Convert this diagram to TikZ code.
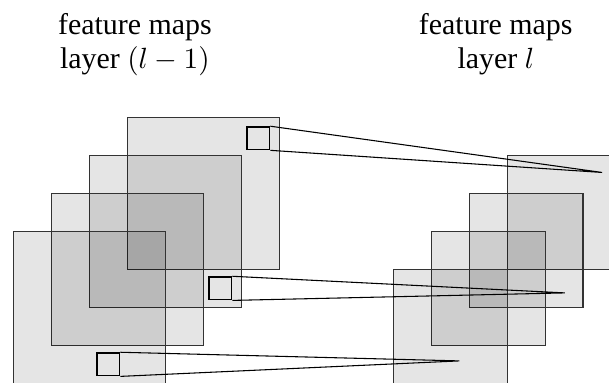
\documentclass[tikz,border=0pt]{standalone}
\usepackage{fontspec}
\setmainfont{Liberation Serif}
\begin{document}
\begin{tikzpicture}[x=0.5cm,y=0.5cm,
    fmap/.style={draw=black!80, fill=black, fill opacity=0.1, line width=0.5pt},
    window/.style={draw, rectangle, minimum size=0.3cm, inner sep=0pt, line width=0.5pt},
    caption/.style={align=center, anchor=north, inner sep=0pt, font=\fontsize{11.2}{12.7}\selectfont}]
  \useasboundingbox (-0.35,0.03) rectangle (15.68,10.09);
  % feature maps of layer (l-1)
  \foreach \i in {3,2,1,0}
    \draw[fmap] (\i,\i) rectangle ++(4,4);
  % feature maps of layer l
  \foreach \i in {3,2,1,0}
    \draw[fmap] (10+\i,\i) rectangle ++(3,3);
  % receptive windows
  \node[window] (w1) at (6.45,6.45) {};
  \node[window] (w2) at (5.45,2.5) {};
  \node[window] (w3) at (2.5,0.5) {};
  \coordinate (t1) at (15.5,5.55);
  \coordinate (t2) at (14.52,2.38);
  \coordinate (t3) at (11.74,0.59);
  \draw (w1.north east) -- (t1) -- (w1.south east);
  \draw (w2.north east) -- (t2) -- (w2.south east);
  \draw (w3.north east) -- (t3) -- (w3.south east);
  % captions
  \node[caption] (prev) at (3.2,9.74) {feature maps\\layer $(l-1)$};
  \node[caption] (cur) at (12.7,9.74) {feature maps\\layer $l$};
\end{tikzpicture}
\end{document}
